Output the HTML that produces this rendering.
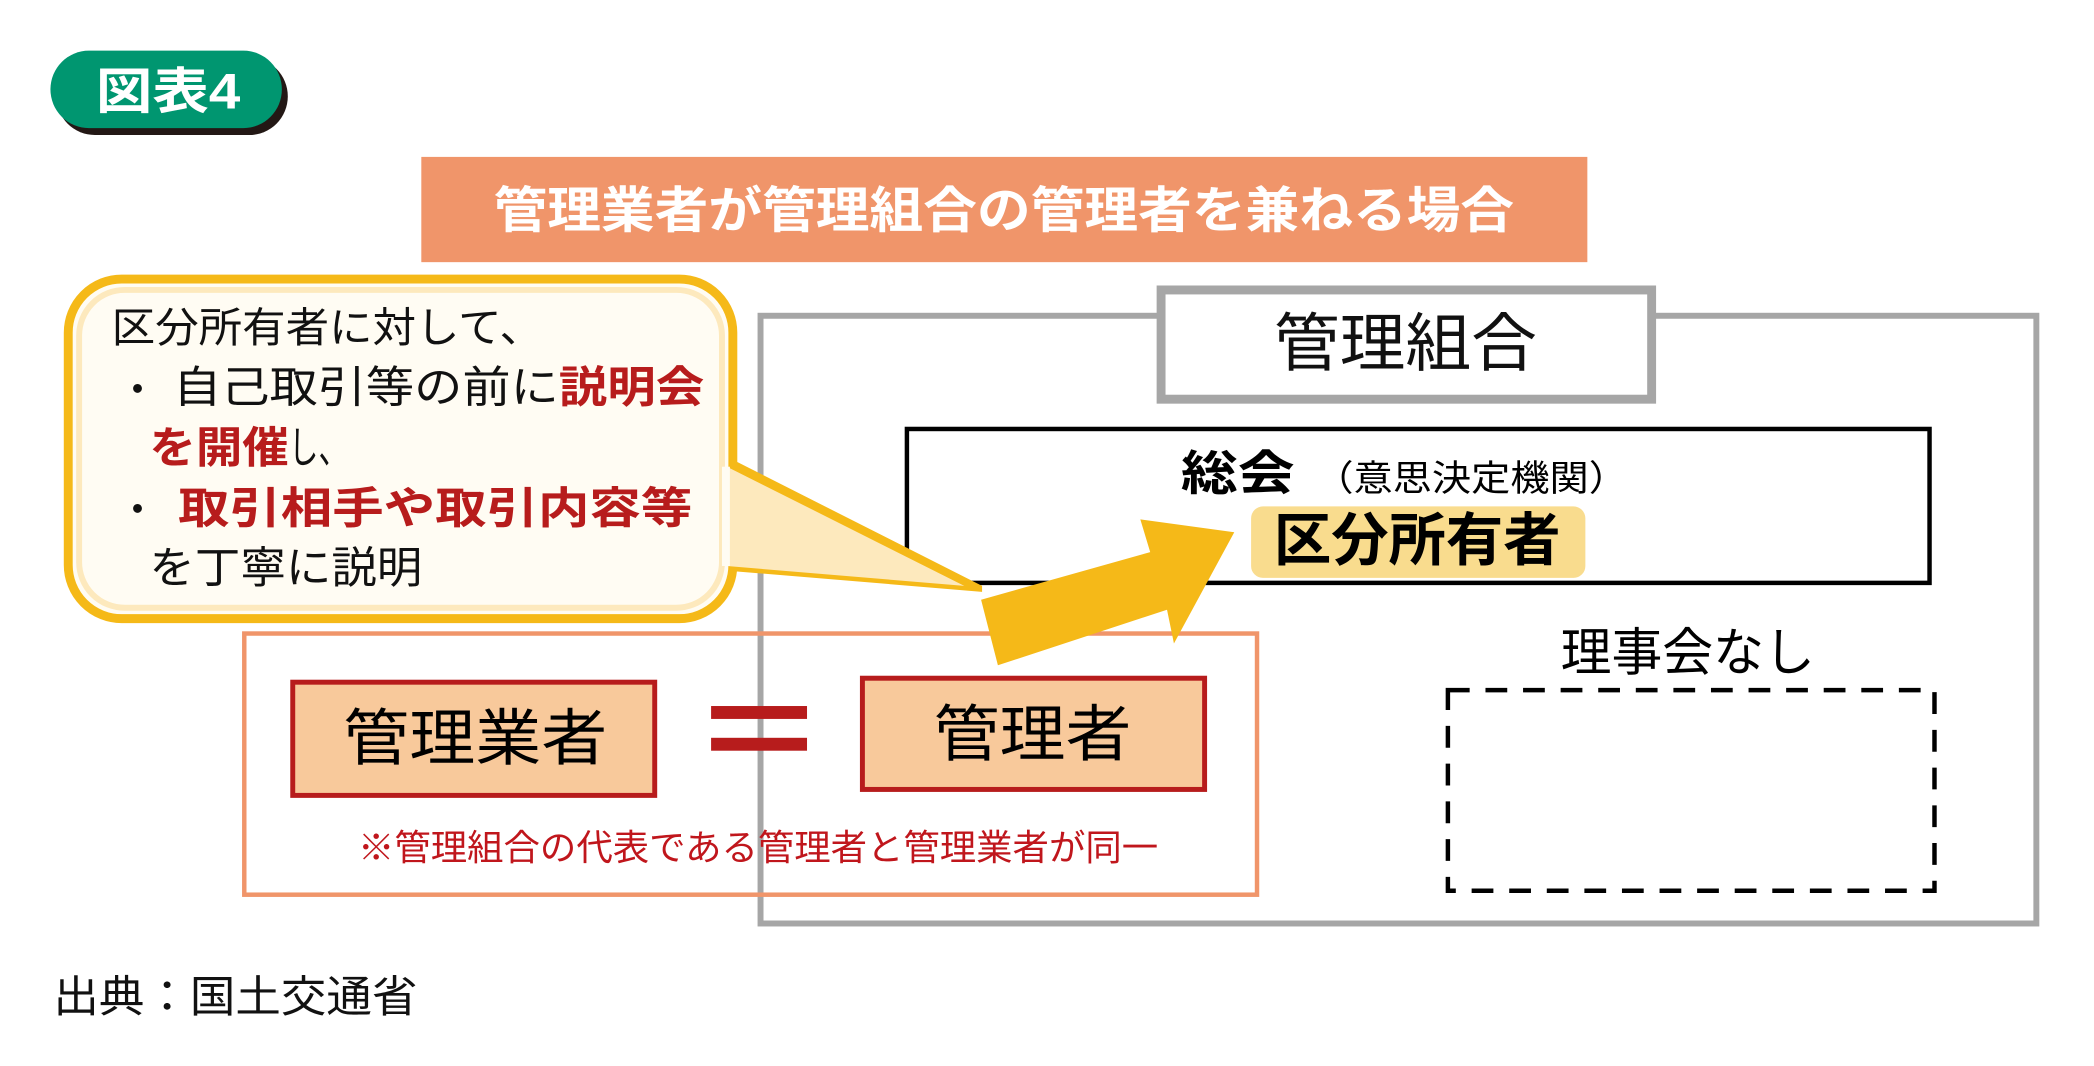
<!DOCTYPE html>
<html><head><meta charset="utf-8"><style>
html,body{margin:0;padding:0;background:#fff;}
svg{display:block;}
text{font-family:"Liberation Sans","Noto Sans CJK JP",sans-serif;dominant-baseline:central;}
</style></head><body>
<svg width="2094" height="1066" viewBox="0 0 2094 1066" xmlns="http://www.w3.org/2000/svg">
<g transform="scale(0.989,0.993)">
<!-- badge -->
<rect x="57" y="58" width="234" height="78" rx="39" fill="#231815"/>
<rect x="51" y="51" width="234" height="78" rx="39" fill="#009670"/>
<text x="97" y="92" font-size="50" fill="#fff" font-weight="bold" textLength="146" lengthAdjust="spacingAndGlyphs">図表4</text>

<!-- title -->
<rect x="426" y="158" width="1179" height="106" fill="#f0956a"/>
<text x="499" y="212" font-size="50" font-weight="bold" fill="#fff" textLength="1032" lengthAdjust="spacingAndGlyphs">管理業者が管理組合の管理者を兼ねる場合</text>

<!-- outer gray box -->
<rect x="769" y="318" width="1290" height="612" fill="none" stroke="#a6a6a6" stroke-width="6"/>
<!-- 管理組合 -->
<rect x="1174" y="292" width="496" height="110" fill="#fff" stroke="#a6a6a6" stroke-width="9"/>
<text x="1288" y="347" font-size="64" fill="#111" textLength="266" lengthAdjust="spacingAndGlyphs">管理組合</text>

<!-- 総会 box -->
<rect x="917" y="432" width="1034" height="155" fill="none" stroke="#000" stroke-width="4.5"/>
<text x="1194" y="478" font-size="48" font-weight="bold" fill="#000" textLength="115" lengthAdjust="spacingAndGlyphs">総会</text>
<text x="1329" y="482" font-size="36" fill="#000" textLength="317" lengthAdjust="spacingAndGlyphs">（意思決定機関）</text>
<rect x="1265" y="510" width="338" height="72" rx="12" fill="#f9dc8e"/>
<text x="1288" y="545" font-size="58" font-weight="bold" fill="#000" textLength="290" lengthAdjust="spacingAndGlyphs">区分所有者</text>

<!-- 理事会なし -->
<text x="1578" y="657" font-size="52" fill="#000" textLength="257" lengthAdjust="spacingAndGlyphs">理事会なし</text>
<rect x="1464" y="695" width="492" height="202" fill="none" stroke="#000" stroke-width="4.5" stroke-dasharray="22 16"/>

<!-- orange box -->
<rect x="247" y="638" width="1024" height="263" fill="none" stroke="#f0956a" stroke-width="4.5"/>
<rect x="296" y="687" width="366" height="114" fill="#f8c99b" stroke="#b71c1c" stroke-width="5"/>
<text x="347" y="744" font-size="62" fill="#000" textLength="267" lengthAdjust="spacingAndGlyphs">管理業者</text>
<rect x="719" y="711" width="97" height="13" fill="#b71c1c"/>
<rect x="719" y="743" width="97" height="13" fill="#b71c1c"/>
<rect x="872" y="683" width="346" height="112" fill="#f8c99b" stroke="#b71c1c" stroke-width="5"/>
<text x="944" y="740" font-size="62" fill="#000" textLength="200" lengthAdjust="spacingAndGlyphs">管理者</text>
<text x="362" y="854" font-size="36" fill="#c0161c" textLength="809" lengthAdjust="spacingAndGlyphs">※管理組合の代表である管理者と管理業者が同一</text>

<!-- callout -->
<path d="M739,462 L993,590 L993,596 L739,575 Z" fill="#f5b918"/>
<rect x="69" y="281" width="672" height="342" rx="54" fill="#fffcf3" stroke="#f5b918" stroke-width="9"/>
<rect x="80" y="292" width="650" height="320" rx="46" fill="none" stroke="#fde9bd" stroke-width="6"/>
<path d="M735,470 L975,590 L735,570 Z" fill="#fde9bd"/>
<rect x="730" y="470" width="8" height="100" fill="#fffcf3"/>
<text x="113" y="330" font-size="42" fill="#111" textLength="436" lengthAdjust="spacingAndGlyphs">区分所有者に対して、</text>
<text x="118" y="392" font-size="42" fill="#111">・</text>
<text x="175" y="391" font-size="44" fill="#111" textLength="390" lengthAdjust="spacingAndGlyphs">自己取引等の前に</text>
<text x="565" y="391" font-size="44" font-weight="bold" fill="#b71c1c" textLength="147" lengthAdjust="spacingAndGlyphs">説明会</text>
<text x="151" y="452" font-size="44" font-weight="bold" fill="#b71c1c" textLength="141" lengthAdjust="spacingAndGlyphs">を開催</text>
<text x="292" y="452" font-size="44" fill="#111" textLength="60" lengthAdjust="spacingAndGlyphs">し、</text>
<text x="118" y="513" font-size="42" fill="#111">・</text>
<text x="180" y="513" font-size="44" font-weight="bold" fill="#b71c1c" textLength="520" lengthAdjust="spacingAndGlyphs">取引相手や取引内容等</text>
<text x="151" y="573" font-size="44" fill="#111" textLength="276" lengthAdjust="spacingAndGlyphs">を丁寧に説明</text>

<!-- big arrow -->
<polygon points="992,604 1163,556 1153,523 1248,536 1187,648 1180,614 1009,670" fill="#f5b918"/>

<!-- source -->
<text x="54" y="1005" font-size="44" fill="#111" textLength="368" lengthAdjust="spacingAndGlyphs">出典：国土交通省</text>
</g>
</svg>
</body></html>
